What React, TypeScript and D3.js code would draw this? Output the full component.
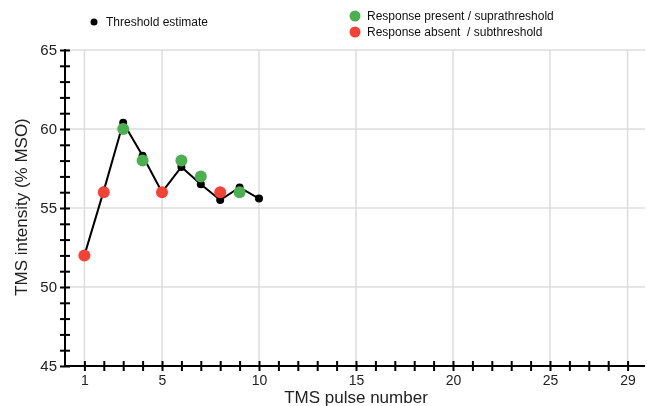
import * as d3 from "d3";
import { useEffect, useRef } from "react";

// pulse numbers and the running threshold estimate
const pulses = [1, 2, 3, 4, 5, 6, 7, 8, 9, 10];
const thresholdEstimate = [52, 56.1, 60.4, 58.3, 56, 57.6, 56.5, 55.5, 56.3, 55.6];

// intensity delivered at each pulse and whether a response was seen
const responsePulses = [1, 2, 3, 4, 5, 6, 7, 8, 9];
const responseIntensity = [52, 56, 60, 58, 56, 58, 57, 56, 56];
const responsePresent = [false, false, true, true, false, true, true, false, true];

const xLabelTicks = [1, 5, 10, 15, 20, 25, 29];
const yLabelTicks = [45, 50, 55, 60, 65];

const GREEN = "#4caf50";
const RED = "#f44336";
const FONT = "'Liberation Sans', Arial, sans-serif";

const App = () => {
  const svgRef = useRef<SVGSVGElement | null>(null);

  useEffect(() => {
    const svg = d3.select(svgRef.current);
    svg.selectAll("*").remove();

    const width = 647;
    const height = 406;
    const margin = { top: 50, right: 0, bottom: 40, left: 65 };

    const x = d3.scaleLinear().domain([0, 30]).range([margin.left, width - margin.right]);
    const y = d3.scaleLinear().domain([45, 65]).range([height - margin.bottom, margin.top]);

    // grid
    const grid = svg.append("g");
    grid
      .selectAll("line.v")
      .data(xLabelTicks)
      .join("line")
      .attr("x1", (d) => x(d))
      .attr("x2", (d) => x(d))
      .attr("y1", y(65))
      .attr("y2", y(45))
      .attr("stroke", "#dcdcdc")
      .attr("stroke-width", 1.5);
    grid
      .selectAll("line.h")
      .data(yLabelTicks.filter((d) => d > 45))
      .join("line")
      .attr("x1", x(0))
      .attr("x2", width - 2)
      .attr("y1", (d) => y(d))
      .attr("y2", (d) => y(d))
      .attr("stroke", "#dcdcdc")
      .attr("stroke-width", 1.5);

    // x axis
    const xAxis = svg
      .append("g")
      .attr("transform", `translate(0,${y(45)})`)
      .call(
        d3
          .axisBottom(x)
          .tickValues(d3.range(1, 30))
          .tickSize(5)
          .tickPadding(4)
          .tickFormat((d) => (xLabelTicks.includes(+d) ? String(d) : ""))
      );
    xAxis.select(".domain").remove();
    xAxis.selectAll(".tick line").attr("y1", -5).attr("stroke", "#000").attr("stroke-width", 2);
    xAxis.selectAll("text").attr("font-size", 14).attr("font-family", FONT).attr("fill", "#222");
    xAxis
      .append("line")
      .attr("x1", x(0) - 1)
      .attr("x2", width - 2)
      .attr("stroke", "#000")
      .attr("stroke-width", 2);

    // y axis
    const yAxis = svg
      .append("g")
      .attr("transform", `translate(${x(0)},0)`)
      .call(
        d3
          .axisLeft(y)
          .tickValues(d3.range(45, 66))
          .tickSize(5)
          .tickPadding(3)
          .tickFormat((d) => (yLabelTicks.includes(+d) ? String(d) : ""))
      );
    yAxis.select(".domain").remove();
    yAxis.selectAll(".tick line").attr("x1", 5).attr("stroke", "#000").attr("stroke-width", 2);
    yAxis.selectAll("text").attr("font-size", 15).attr("font-family", FONT).attr("fill", "#222");
    yAxis
      .append("line")
      .attr("y1", y(65) - 1)
      .attr("y2", y(45) + 1)
      .attr("stroke", "#000")
      .attr("stroke-width", 2);

    // axis titles
    svg
      .append("text")
      .attr("x", (x(0) + width) / 2 + 0)
      .attr("y", 403)
      .attr("text-anchor", "middle")
      .attr("font-size", 17)
      .attr("font-family", FONT)
      .attr("fill", "#222")
      .text("TMS pulse number");
    svg
      .append("text")
      .attr("transform", `translate(27,${(y(45) + y(65)) / 2 - 1}) rotate(-90)`)
      .attr("text-anchor", "middle")
      .attr("font-size", 17)
      .attr("font-family", FONT)
      .attr("fill", "#222")
      .text("TMS intensity (% MSO)");

    // threshold line + dots
    const line = d3
      .line<number>()
      .x((d, i) => x(pulses[i]))
      .y((d) => y(d));
    svg
      .append("path")
      .datum(thresholdEstimate)
      .attr("fill", "none")
      .attr("stroke", "#000")
      .attr("stroke-width", 2)
      .attr("d", line);
    svg
      .append("g")
      .selectAll("circle")
      .data(thresholdEstimate)
      .join("circle")
      .attr("cx", (d, i) => x(pulses[i]))
      .attr("cy", (d) => y(d))
      .attr("r", 4)
      .attr("fill", "#000");

    // responses
    svg
      .append("g")
      .selectAll("circle")
      .data(responseIntensity)
      .join("circle")
      .attr("cx", (d, i) => x(responsePulses[i]))
      .attr("cy", (d) => y(d))
      .attr("r", 6)
      .attr("fill", (d, i) => (responsePresent[i] ? GREEN : RED));

    // legend
    const legend = svg.append("g").attr("font-family", FONT).attr("font-size", 12).attr("fill", "#111");
    legend.append("circle").attr("cx", 94).attr("cy", 22).attr("r", 3.5).attr("fill", "#000");
    legend.append("text").attr("x", 106).attr("y", 26).text("Threshold estimate");
    legend.append("circle").attr("cx", 355).attr("cy", 16).attr("r", 5.5).attr("fill", GREEN);
    legend.append("text").attr("x", 367).attr("y", 20).text("Response present / suprathreshold");
    legend.append("circle").attr("cx", 355).attr("cy", 32).attr("r", 5.5).attr("fill", RED);
    legend
      .append("text")
      .attr("x", 367)
      .attr("y", 36)
      .attr("xml:space", "preserve")
      .style("white-space", "pre")
      .text("Response absent  / subthreshold");
  }, []);

  return (
    <div style={{ position: "fixed", left: 0, top: 0 }}>
      <svg ref={svgRef} width={647} height={406} style={{ display: "block" }}></svg>
    </div>
  );
};

export default App;
